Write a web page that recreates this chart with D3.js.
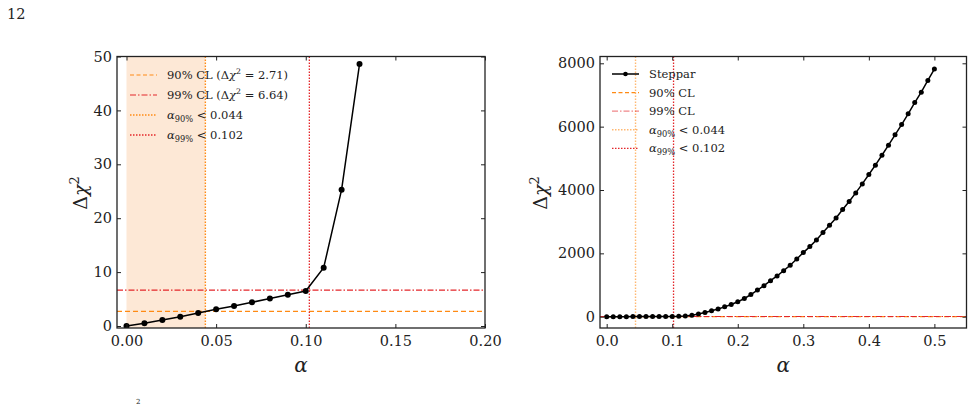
<!DOCTYPE html>
<html>
<head>
<meta charset="utf-8">
<script src="https://cdn.jsdelivr.net/npm/d3@7"></script>
<style>
body { margin: 0; background: #fff; }
text { font-family: "DejaVu Serif", "Liberation Serif", serif; fill: #222; }
</style>
</head>
<body>
<div id="chart"></div>
<script>
// left panel: zoom on the small-alpha region
var alphaLeft = [0.00, 0.01, 0.02, 0.03, 0.04, 0.05, 0.06, 0.07, 0.08, 0.09, 0.10, 0.11, 0.12, 0.13];
var chiLeft = [0.0, 0.5, 1.1, 1.7, 2.4, 3.1, 3.7, 4.4, 5.1, 5.8, 6.5, 10.8, 25.3, 48.6];

// right panel: full steppar scan
var alphaRight = [0.00, 0.01, 0.02, 0.03, 0.04, 0.05, 0.06, 0.07, 0.08, 0.09,
  0.10, 0.11, 0.12, 0.13, 0.14, 0.15, 0.16, 0.17, 0.18, 0.19,
  0.20, 0.21, 0.22, 0.23, 0.24, 0.25, 0.26, 0.27, 0.28, 0.29,
  0.30, 0.31, 0.32, 0.33, 0.34, 0.35, 0.36, 0.37, 0.38, 0.39,
  0.40, 0.41, 0.42, 0.43, 0.44, 0.45, 0.46, 0.47, 0.48, 0.49, 0.50];
var chiRight = [0, 0.5, 1.1, 1.7, 2.4, 3.1, 3.7, 4.4, 5.1, 5.8,
  6.5, 10.8, 25.3, 48.6, 85, 135, 185, 245, 310, 385,
  470, 575, 700, 840, 980, 1138, 1286, 1454, 1623, 1823,
  2023, 2213, 2423, 2655, 2887, 3118, 3382, 3635, 3908, 4193,
  4488, 4783, 5098, 5415, 5741, 6067, 6404, 6762, 7089, 7458, 7817];

var cl90 = 2.71, cl99 = 6.64;
var alpha90 = 0.044, alpha99 = 0.102;

var xTicksLeft = [0, 0.05, 0.10, 0.15, 0.20];
var yTicksLeft = [0, 10, 20, 30, 40, 50];
var xTicksRight = [0, 0.1, 0.2, 0.3, 0.4, 0.5];
var yTicksRight = [0, 2000, 4000, 6000, 8000];

var orange = '#ff8a14';
var red = '#e3262a';
var serif = '"DejaVu Serif", "Liberation Serif", serif';

var svg = d3.select('#chart').append('svg')
  .attr('width', 974)
  .attr('height', 405);

svg.append('text').attr('x', 7).attr('y', 19).style('font-size', '14.5px').text('12');
// top of a cut caption line
svg.append('text').attr('x', 136).attr('y', 404).style('font-size', '7px').text('2');

function deltaChi(sel, size) {
  sel.append('tspan').text('Δ');
  sel.append('tspan').style('font-style', 'italic').text('χ');
  sel.append('tspan').attr('dy', -size * 0.4).style('font-size', (size * 0.68) + 'px').text('2');
}

function alphaSub(sel, sub, rest, size) {
  sel.append('tspan').style('font-style', 'italic').text('α');
  sel.append('tspan').attr('dy', size * 0.25).style('font-size', (size * 0.72) + 'px').text(sub);
  sel.append('tspan').attr('dy', -size * 0.25).text(' < ' + rest);
}

function panel(cfg) {
  var g = svg.append('g');
  var x = d3.scaleLinear().domain(cfg.xDomain).range([cfg.left, cfg.right]);
  var y = d3.scaleLinear().domain(cfg.yDomain).range([cfg.bottom, cfg.top]);

  var clipId = 'clip-' + cfg.name;
  svg.append('clipPath').attr('id', clipId).append('rect')
    .attr('x', cfg.left).attr('y', cfg.top)
    .attr('width', cfg.right - cfg.left).attr('height', cfg.bottom - cfg.top);

  var plot = g.append('g').attr('clip-path', 'url(#' + clipId + ')');

  if (cfg.shade) {
    plot.append('rect')
      .attr('x', x(0)).attr('y', cfg.top)
      .attr('width', x(alpha90) - x(0)).attr('height', cfg.bottom - cfg.top)
      .style('fill', '#fde8d6');
  }

  // reference lines
  plot.append('line')
    .attr('x1', cfg.left).attr('x2', cfg.right).attr('y1', y(cl90)).attr('y2', y(cl90))
    .style('stroke', orange).style('stroke-width', 1.2).style('stroke-dasharray', '5,3');
  plot.append('line')
    .attr('x1', cfg.left).attr('x2', cfg.right).attr('y1', y(cl99)).attr('y2', y(cl99))
    .style('stroke', red).style('stroke-width', 1.2).style('stroke-dasharray', '6,2,1.5,2');
  plot.append('line')
    .attr('x1', x(alpha90)).attr('x2', x(alpha90)).attr('y1', cfg.top).attr('y2', cfg.bottom)
    .style('stroke', orange).style('stroke-width', 1.4).style('stroke-dasharray', '1.5,1.5')
    .style('opacity', cfg.vOpacity);
  plot.append('line')
    .attr('x1', x(alpha99)).attr('x2', x(alpha99)).attr('y1', cfg.top).attr('y2', cfg.bottom)
    .style('stroke', red).style('stroke-width', 1.3).style('stroke-dasharray', '1.5,1.5');

  // the scan
  var line = d3.line().x(function (d, i) { return x(cfg.xs[i]); }).y(function (d) { return y(d); });
  plot.append('path').datum(cfg.ys)
    .attr('d', line)
    .style('fill', 'none').style('stroke', '#000').style('stroke-width', 1.5);
  plot.selectAll('circle').data(cfg.ys).enter().append('circle')
    .attr('cx', function (d, i) { return x(cfg.xs[i]); })
    .attr('cy', function (d) { return y(d); })
    .attr('r', cfg.r)
    .style('fill', '#000');

  // axes, ticks inward on all sides
  var xb = g.append('g').attr('transform', 'translate(0,' + cfg.bottom + ')')
    .call(d3.axisBottom(x).tickValues(cfg.xTicks).tickFormat(d3.format(cfg.xFmt))
      .tickSizeInner(-4).tickSizeOuter(0).tickPadding(8));
  var xt = g.append('g').attr('transform', 'translate(0,' + cfg.top + ')')
    .call(d3.axisTop(x).tickValues(cfg.xTicks).tickFormat('').tickSizeInner(-4).tickSizeOuter(0));
  var yl = g.append('g').attr('transform', 'translate(' + cfg.left + ',0)')
    .call(d3.axisLeft(y).tickValues(cfg.yTicks).tickFormat(d3.format('d'))
      .tickSizeInner(-4).tickSizeOuter(0).tickPadding(5));
  var yr = g.append('g').attr('transform', 'translate(' + cfg.right + ',0)')
    .call(d3.axisRight(y).tickValues(cfg.yTicks).tickFormat('').tickSizeInner(-4).tickSizeOuter(0));
  [xb, xt, yl, yr].forEach(function (a) {
    a.attr('font-family', serif).attr('font-size', 14.5);
    a.select('.domain').remove();
    a.selectAll('line').style('stroke', '#222').style('stroke-width', 1);
    a.selectAll('text').style('font-size', '14.5px').style('font-family', serif).style('fill', '#222');
  });

  g.append('rect')
    .attr('x', cfg.left).attr('y', cfg.top)
    .attr('width', cfg.right - cfg.left).attr('height', cfg.bottom - cfg.top)
    .style('fill', 'none').style('stroke', '#222').style('stroke-width', 1.3);

  // axis titles
  g.append('text')
    .attr('x', (cfg.left + cfg.right) / 2).attr('y', 372)
    .attr('text-anchor', 'middle').style('font-size', '20px').style('font-style', 'italic')
    .text('α');
  var yt = g.append('text')
    .attr('transform', 'translate(' + cfg.ylabelX + ',193) rotate(-90)')
    .attr('text-anchor', 'middle').style('font-size', '19px');
  deltaChi(yt, 19);

  // legend
  var lg = g.append('g');
  var fs = 11.5;
  cfg.legend.forEach(function (item, i) {
    var ly = cfg.legendY + i * cfg.legendStep;
    lg.append('line')
      .attr('x1', cfg.legendX).attr('x2', cfg.legendX + 27).attr('y1', ly).attr('y2', ly)
      .style('stroke', item.color).style('stroke-width', item.width)
      .style('stroke-dasharray', item.dash).style('opacity', item.opacity);
    if (item.marker) {
      lg.append('circle').attr('cx', cfg.legendX + 13.5).attr('cy', ly).attr('r', 2.3).style('fill', '#000');
    }
    var t = lg.append('text').attr('x', cfg.legendX + 37).attr('y', ly + 4).style('font-size', fs + 'px');
    item.label(t, fs);
  });
}

var legendLeft = [
  { color: orange, width: 1.2, dash: '4,2.5', opacity: 1, label: function (t, s) {
    t.append('tspan').text('90% CL (');
    deltaChi(t, s);
    t.append('tspan').attr('dy', s * 0.4).text(' = ' + cl90 + ')');
  } },
  { color: red, width: 1.2, dash: '6,2,1.5,2', opacity: 1, label: function (t, s) {
    t.append('tspan').text('99% CL (');
    deltaChi(t, s);
    t.append('tspan').attr('dy', s * 0.4).text(' = ' + cl99 + ')');
  } },
  { color: orange, width: 1.4, dash: '1.5,1.5', opacity: 1, label: function (t, s) { alphaSub(t, '90%', alpha90, s); } },
  { color: red, width: 1.3, dash: '1.5,1.5', opacity: 1, label: function (t, s) { alphaSub(t, '99%', alpha99, s); } }
];

var legendRight = [
  { color: '#000', width: 1.5, dash: null, opacity: 1, marker: true, label: function (t) { t.text('Steppar'); } },
  { color: orange, width: 1.2, dash: '4,2.5', opacity: 1, label: function (t) { t.text('90% CL'); } },
  { color: red, width: 1.2, dash: '6,2,1.5,2', opacity: 0.55, label: function (t) { t.text('99% CL'); } },
  { color: orange, width: 1.4, dash: '1.5,1.5', opacity: 0.6, label: function (t, s) { alphaSub(t, '90%', alpha90, s); } },
  { color: red, width: 1.3, dash: '1.5,1.5', opacity: 1, label: function (t, s) { alphaSub(t, '99%', alpha99, s); } }
];

panel({
  name: 'left', left: 117, right: 485, top: 56.5, bottom: 328,
  xDomain: [-0.0053, 0.2], yDomain: [-0.37, 50],
  xs: alphaLeft, ys: chiLeft, r: 3,
  xTicks: xTicksLeft, yTicks: yTicksLeft, xFmt: '.2f',
  shade: true, vOpacity: 1,
  ylabelX: 87,
  legend: legendLeft, legendX: 130, legendY: 75, legendStep: 20
});

panel({
  name: 'right', left: 600, right: 966.5, top: 56.5, bottom: 328,
  xDomain: [-0.0102, 0.549], yDomain: [-357, 8215],
  xs: alphaRight, ys: chiRight, r: 2.5,
  xTicks: xTicksRight, yTicks: yTicksRight, xFmt: '.1f',
  shade: false, vOpacity: 0.6,
  ylabelX: 547,
  legend: legendRight, legendX: 612, legendY: 74, legendStep: 18.6
});
</script>
</body>
</html>
